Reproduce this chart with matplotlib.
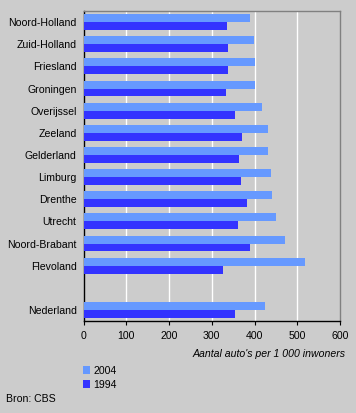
import matplotlib
matplotlib.use("Agg")
import matplotlib.pyplot as plt
import numpy as np

plt.rcParams['font.family'] = ['Liberation Sans', 'DejaVu Sans']

provinces = ["Noord-Holland", "Zuid-Holland", "Friesland", "Groningen", "Overijssel",
             "Zeeland", "Gelderland", "Limburg", "Drenthe", "Utrecht",
             "Noord-Brabant", "Flevoland", "Nederland"]
values_2004 = [390, 399, 401, 401, 418, 432, 432, 439, 441, 450, 471, 518, 425]
values_1994 = [336, 338, 338, 333, 355, 371, 364, 369, 383, 362, 390, 326, 355]
xticks = [0, 100, 200, 300, 400, 500, 600]
xlabel = "Aantal auto's per 1 000 inwoners"
source = "Bron: CBS"

bg = "#CCCCCC"
c2004 = "#6699FF"
c1994 = "#3333FF"
fs = 7.6

W, H = 356, 413
fig = plt.figure(figsize=(W / 100, H / 100), dpi=100, facecolor=bg)
ax = fig.add_axes([83.5 / W, 1 - 321 / H, (340 - 83.5) / W, 310 / H], facecolor=bg)

pos = np.array(list(range(12)) + [13], dtype=float)
h = 0.36
ax.barh(pos - h / 2, values_2004, height=h, color=c2004, label="2004", zorder=3)
ax.barh(pos + h / 2, values_1994, height=h, color=c1994, label="1994", zorder=3)

ax.set_ylim(13.5, -0.5)
ax.set_xlim(0, 600)
ax.set_yticks(pos)
ax.set_yticklabels(provinces, fontsize=fs)
ax.tick_params(axis='y', length=0, pad=5)
ax.set_xticks(xticks)
ax.set_xticklabels([str(x) for x in xticks], fontsize=fs)
ax.tick_params(axis='x', length=3, width=0.8, color='black', pad=4)
for x in xticks[1:-1]:
    ax.axvline(x, color='white', lw=1, zorder=1)

for s in ['left', 'bottom']:
    ax.spines[s].set_color('black')
    ax.spines[s].set_linewidth(1)
for s in ['top', 'right']:
    ax.spines[s].set_color('#808080')
    ax.spines[s].set_linewidth(1)

fig.text(346 / W, 1 - 354 / H, xlabel, ha='right', va='center', fontsize=fs, style='italic')

handles, labels = ax.get_legend_handles_labels()
leg = fig.legend(handles, labels, loc='upper left', bbox_to_anchor=(82.5 / W, 1 - 366 / H),
                 frameon=False, fontsize=fs, handlelength=0.75, handleheight=0.75,
                 handletextpad=0.3, labelspacing=0.35, borderpad=0, borderaxespad=0)

fig.text(6 / W, 1 - 399 / H, source, ha='left', va='center', fontsize=fs)

fig.savefig("out.png", dpi=100, facecolor=bg)
